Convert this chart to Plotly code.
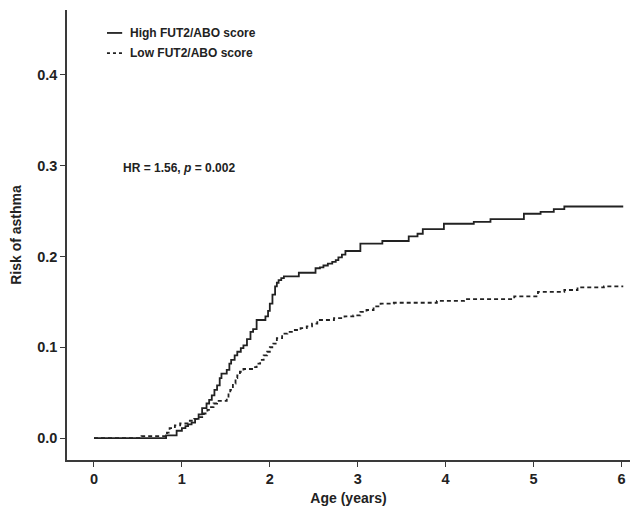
import plotly.graph_objects as go

# Step-change times (years) and cumulative risk values
high_t = [0, 0.82, 0.94, 1.00, 1.04, 1.07, 1.11, 1.15, 1.19, 1.23, 1.28, 1.31, 1.34, 1.37, 1.40,
          1.43, 1.45, 1.51, 1.54, 1.56, 1.60, 1.63, 1.67, 1.70, 1.74, 1.78, 1.81, 1.85, 1.95,
          1.98, 2.00, 2.03, 2.06, 2.08, 2.10, 2.13, 2.16, 2.33, 2.52, 2.57, 2.61, 2.66, 2.71,
          2.75, 2.78, 2.82, 2.86, 3.03, 3.28, 3.58, 3.68, 3.74, 3.98, 4.32, 4.51, 4.89, 5.08,
          5.23, 5.35, 6.02]
high_risk = [0, 0.003, 0.008, 0.011, 0.013, 0.015, 0.017, 0.021, 0.026, 0.033, 0.038, 0.042, 0.047,
             0.053, 0.058, 0.066, 0.071, 0.075, 0.082, 0.086, 0.091, 0.095, 0.099, 0.102, 0.109,
             0.117, 0.120, 0.130, 0.134, 0.140, 0.148, 0.158, 0.167, 0.171, 0.174, 0.176, 0.178,
             0.182, 0.187, 0.188, 0.190, 0.192, 0.194, 0.196, 0.199, 0.202, 0.206, 0.214, 0.217,
             0.222, 0.225, 0.230, 0.236, 0.238, 0.241, 0.247, 0.249, 0.252, 0.255, 0.255]

low_t = [0, 0.54, 0.83, 0.86, 0.92, 0.98, 1.09, 1.14, 1.17, 1.25, 1.29, 1.32, 1.36, 1.40, 1.51,
         1.53, 1.55, 1.58, 1.61, 1.63, 1.66, 1.70, 1.81, 1.85, 1.89, 1.93, 1.97, 2.00, 2.04,
         2.08, 2.14, 2.20, 2.27, 2.35, 2.42, 2.48, 2.54, 2.73, 2.85, 2.95, 3.03, 3.10, 3.18,
         3.26, 3.41, 3.90, 4.21, 4.78, 5.05, 5.35, 5.50, 5.80, 6.01]
low_risk = [0, 0.002, 0.006, 0.011, 0.014, 0.016, 0.019, 0.021, 0.023, 0.027, 0.031, 0.034, 0.038,
            0.041, 0.044, 0.049, 0.053, 0.060, 0.066, 0.069, 0.073, 0.076, 0.078, 0.082, 0.086,
            0.091, 0.095, 0.100, 0.104, 0.110, 0.115, 0.117, 0.119, 0.121, 0.123, 0.126, 0.130,
            0.132, 0.134, 0.135, 0.139, 0.141, 0.145, 0.148, 0.149, 0.151, 0.153, 0.156, 0.161,
            0.163, 0.166, 0.167, 0.168]

x_ticks = [0, 1, 2, 3, 4, 5, 6]
y_ticks = [0.0, 0.1, 0.2, 0.3, 0.4]
y_tick_labels = ["0.0", "0.1", "0.2", "0.3", "0.4"]
series_names = ["High FUT2/ABO score", "Low FUT2/ABO score"]
hr_text = "HR = 1.56, <i>p</i> = 0.002"

INK = "#222222"
AXIS = "#3a3a3a"
FONT = "Liberation Sans"

fig = go.Figure()
fig.add_trace(go.Scatter(x=high_t, y=high_risk, mode="lines", line_shape="hv",
                         line=dict(color=INK, width=1.8), name=series_names[0], showlegend=False))
fig.add_trace(go.Scatter(x=low_t, y=low_risk, mode="lines", line_shape="hv",
                         line=dict(color=INK, width=1.8, dash="4px,3px"), name=series_names[1],
                         showlegend=False))

# Legend drawn manually (short line samples)
fig.add_shape(type="line", xref="paper", yref="paper", x0=0.071, x1=0.098, y0=0.949, y1=0.949,
              line=dict(color=INK, width=1.8))
fig.add_shape(type="line", xref="paper", yref="paper", x0=0.071, x1=0.098, y0=0.904, y1=0.904,
              line=dict(color=INK, width=1.8, dash="3px,3px"))
fig.add_annotation(xref="paper", yref="paper", x=0.108, y=0.949, text="<b>%s</b>" % series_names[0],
                   showarrow=False, xanchor="left", yanchor="middle",
                   font=dict(family=FONT, size=12, color=INK))
fig.add_annotation(xref="paper", yref="paper", x=0.108, y=0.904, text="<b>%s</b>" % series_names[1],
                   showarrow=False, xanchor="left", yanchor="middle",
                   font=dict(family=FONT, size=12, color=INK))
fig.add_annotation(xref="paper", yref="paper", x=0.096, y=0.649, text="<b>%s</b>" % hr_text,
                   showarrow=False, xanchor="left", yanchor="middle",
                   font=dict(family=FONT, size=12, color=INK))

# Page body has an 8px default margin, so the figure is sized to fit the 643x510 window
fig.update_layout(
    width=635, height=502,
    margin=dict(l=59, r=13, t=2, b=50),
    paper_bgcolor="white", plot_bgcolor="white",
    font=dict(family=FONT, color=INK),
    showlegend=False,
    xaxis=dict(range=[-0.307, 6.097], tickvals=x_ticks, ticktext=["<b>%d</b>" % v for v in x_ticks],
               automargin=False,
               showgrid=False, zeroline=False, showline=True, linecolor=AXIS, linewidth=1.5,
               ticks="outside", ticklen=5, tickwidth=1.2, tickcolor=AXIS,
               tickfont=dict(family=FONT, size=14.5, color=INK),
               title=dict(text="<b>Age (years)</b>", font=dict(family=FONT, size=14, color=INK),
                          standoff=7)),
    yaxis=dict(range=[-0.0242, 0.4714], tickvals=y_ticks, ticktext=["<b>%s</b>" % t for t in y_tick_labels],
               automargin=False,
               showgrid=False, zeroline=False, showline=True, linecolor=AXIS, linewidth=1.5,
               ticks="outside", ticklen=5, tickwidth=1.2, tickcolor=AXIS,
               tickfont=dict(family=FONT, size=14.5, color=INK),
               title=dict(text="<b>Risk of asthma</b>", font=dict(family=FONT, size=14, color=INK),
                          standoff=13)),
)

fig.write_html("out.html")
